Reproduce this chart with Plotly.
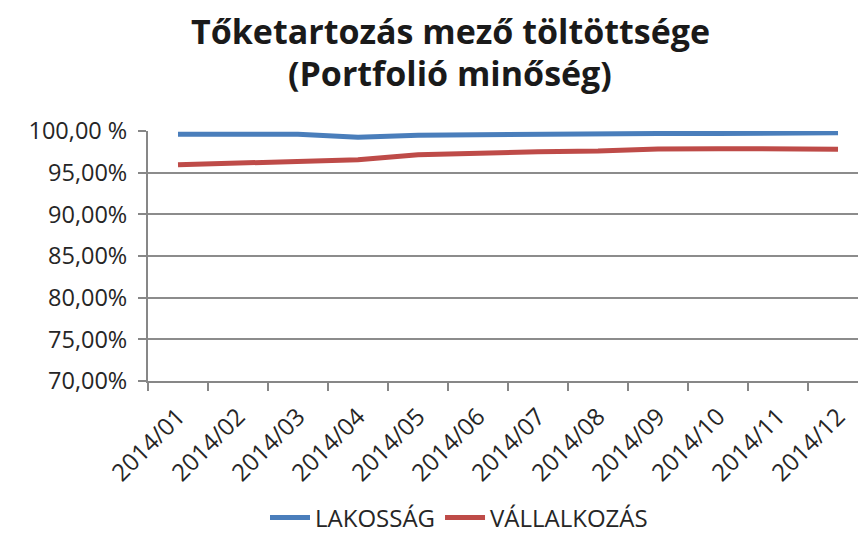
import plotly.graph_objects as go

months = ["2014/01", "2014/02", "2014/03", "2014/04", "2014/05", "2014/06",
          "2014/07", "2014/08", "2014/09", "2014/10", "2014/11", "2014/12"]
lakossag = [99.60, 99.62, 99.62, 99.24, 99.48, 99.56, 99.64, 99.67, 99.69, 99.70, 99.74, 99.80]
vallalkozas = [95.95, 96.17, 96.33, 96.55, 97.15, 97.38, 97.52, 97.60, 97.85, 97.88, 97.90, 97.82]
y_ticks = [70, 75, 80, 85, 90, 95, 100]
y_tick_labels = ["70,00%", "75,00%", "80,00%", "85,00%", "90,00%", "95,00%", "100,00 %"]
title_lines = ["Tőketartozás mező töltöttsége", "(Portfolió minőség)"]

FONT = "Open Sans"
W, H = 858, 535
fig = go.Figure()
fig.add_trace(go.Scatter(x=months, y=lakossag, mode="lines", name="LAKOSSÁG",
                         line=dict(color="#4A7EBB", width=5)))
fig.add_trace(go.Scatter(x=months, y=vallalkozas, mode="lines", name="VÁLLALKOZÁS",
                         line=dict(color="#BE4B48", width=5)))

for i, t in enumerate(title_lines):
    fig.add_annotation(text="<b>%s</b>" % t, xref="paper", yref="paper",
                       x=(450 - 148) / 710, y=1 + (131 - (31.5 + 41 * i)) / 250,
                       xanchor="center", yanchor="middle", showarrow=False,
                       font=dict(family=FONT, size=34, color="#1a1a1a"))

fig.update_layout(
    width=W, height=H,
    margin=dict(l=148, r=0, t=131, b=154),
    paper_bgcolor="white", plot_bgcolor="white",
    font=dict(family=FONT, color="#262626"),
    showlegend=True,
    legend=dict(orientation="h", xref="container", yref="container",
                x=459 / W, xanchor="center", y=(H - 518) / H, yanchor="middle",
                font=dict(family=FONT, size=24, color="#262626"),
                itemwidth=40),
)
fig.update_xaxes(
    type="category", range=[-0.5, 11.333], tickson="boundaries",
    tickangle=-45, tickfont=dict(family=FONT, size=24, color="#262626"),
    showline=True, linecolor="#878787", linewidth=2,
    ticks="outside", ticklen=8, tickcolor="#878787", tickwidth=2,
    showgrid=False, zeroline=False, automargin=False, ticklabelstandoff=10,
)
fig.update_yaxes(
    range=[70, 100], tickvals=y_ticks, ticktext=y_tick_labels,
    tickfont=dict(family=FONT, size=23.5, color="#262626"),
    showline=True, linecolor="#878787", linewidth=2,
    ticks="outside", ticklen=8, tickcolor="#878787", tickwidth=2,
    showgrid=True, gridcolor="#8c8c8c", gridwidth=1.5,
    zeroline=False, ticklabelstandoff=6, automargin=False,
)
fig.write_html("out.html", config={"displayModeBar": False},
               post_script="document.body.style.margin='0';document.body.style.overflow='hidden';")
